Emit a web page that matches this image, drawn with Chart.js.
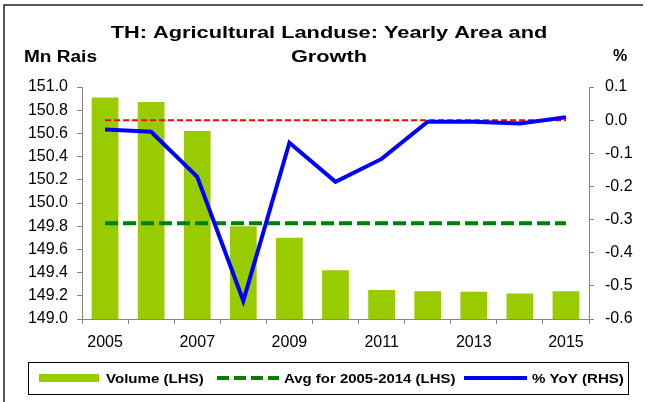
<!DOCTYPE html>
<html>
<head>
<meta charset="utf-8">
<style>
  body { margin: 0; background: #fff; }
  canvas { display: block; }
</style>
<script src="https://cdn.jsdelivr.net/npm/chart.js@4"></script>
</head>
<body>
<canvas id="landChart" width="647" height="402"></canvas>
<script>
// values
const years = ['2005', '2006', '2007', '2008', '2009', '2010', '2011', '2012', '2013', '2014', '2015'];
const volume = [150.91, 150.87, 150.62, 149.80, 149.70, 149.42, 149.25, 149.24, 149.235, 149.22, 149.24];
const avgLine = [149.826, 149.826, 149.826, 149.826, 149.826, 149.826, 149.826, 149.826, 149.826, 149.826, 149.826];
const yoy = [-0.028, -0.035, -0.171, -0.545, -0.068, -0.186, -0.117, -0.005, -0.005, -0.010, 0.009];
const zeroLine = [0, 0, 0, 0, 0, 0, 0, 0, 0, 0, 0];

const titleLines = ['TH: Agricultural Landuse: Yearly Area and', 'Growth'];
const leftUnit = 'Mn Rais';
const rightUnit = '%';
const legendItems = ['Volume (LHS)', 'Avg for 2005-2014 (LHS)', '% YoY (RHS)'];

const FONT = '"Liberation Sans", Arial, sans-serif';
const AXIS = '#868686';

function stretchedText(ctx, text, x, y, font, align, sx) {
    ctx.save();
    ctx.font = font;
    ctx.fillStyle = '#000';
    ctx.textBaseline = 'middle';
    ctx.textAlign = align;
    ctx.translate(x, y);
    ctx.scale(sx, 1);
    ctx.fillText(text, 0, 0);
    ctx.restore();
}

// frame, title, unit labels and the boxed legend
const decorations = {
    id: 'decorations',
    afterDraw(chart) {
        const ctx = chart.ctx;
        ctx.save();
        ctx.strokeStyle = '#222';
        ctx.lineWidth = 1.5;
        ctx.beginPath();
        ctx.moveTo(4, 402);
        ctx.lineTo(4, 5);
        ctx.lineTo(643, 5);
        ctx.stroke();
        ctx.restore();

        stretchedText(ctx, titleLines[0], 329, 33, 'bold 17px ' + FONT, 'center', 1.28);
        stretchedText(ctx, titleLines[1], 329, 57, 'bold 17px ' + FONT, 'center', 1.28);
        stretchedText(ctx, leftUnit, 24, 58, 'bold 16px ' + FONT, 'left', 1.19);
        stretchedText(ctx, rightUnit, 613, 57, 'bold 16px ' + FONT, 'left', 1.0);

        // legend box
        ctx.save();
        ctx.strokeStyle = '#000';
        ctx.lineWidth = 1;
        ctx.strokeRect(28.5, 362.5, 600, 32);

        ctx.fillStyle = '#99cc00';
        ctx.fillRect(39, 374, 60, 8);

        ctx.strokeStyle = '#008000';
        ctx.lineWidth = 4;
        ctx.setLineDash([12, 5]);
        ctx.beginPath();
        ctx.moveTo(217, 378);
        ctx.lineTo(279, 378);
        ctx.stroke();

        ctx.strokeStyle = '#0000ff';
        ctx.setLineDash([]);
        ctx.beginPath();
        ctx.moveTo(464, 378);
        ctx.lineTo(527, 378);
        ctx.stroke();
        ctx.restore();

        const lf = 'bold 13px ' + FONT;
        stretchedText(ctx, legendItems[0], 106, 379, lf, 'left', 1.16);
        stretchedText(ctx, legendItems[1], 284, 379, lf, 'left', 1.15);
        stretchedText(ctx, legendItems[2], 532, 379, lf, 'left', 1.16);
    }
};

new Chart(document.getElementById('landChart'), {
    type: 'bar',
    plugins: [ decorations ],
    data: {
        labels: years,
        datasets: [
            {
                type: 'line',
                label: 'zero',
                data: zeroLine,
                yAxisID: 'y1',
                borderColor: '#ff0000',
                borderWidth: 2,
                borderDash: [6, 3],
                pointRadius: 0,
                order: 3
            },
            {
                type: 'line',
                label: legendItems[1],
                data: avgLine,
                yAxisID: 'y',
                borderColor: '#008000',
                borderWidth: 4,
                borderDash: [13, 5],
                pointRadius: 0,
                order: 2
            },
            {
                type: 'line',
                label: legendItems[2],
                data: yoy,
                yAxisID: 'y1',
                borderColor: '#0000ff',
                borderWidth: 4,
                pointRadius: 0,
                tension: 0,
                order: 1
            },
            {
                type: 'bar',
                label: legendItems[0],
                data: volume,
                yAxisID: 'y',
                backgroundColor: '#99cc00',
                barPercentage: 0.58,
                categoryPercentage: 1,
                order: 4
            }
        ]
    },
    options: {
        responsive: false,
        animation: false,
        events: [],
        layout: {
            padding: { top: 87, bottom: 43, left: 0, right: 0 }
        },
        plugins: {
            legend: { display: false },
            title: { display: false },
            tooltip: { enabled: false }
        },
        scales: {
            x: {
                offset: true,
                afterFit: scale => { scale.height = 40; },
                grid: {
                    offset: true,
                    drawOnChartArea: false,
                    tickLength: 5,
                    color: AXIS
                },
                border: { color: AXIS, width: 1 },
                ticks: {
                    autoSkip: false,
                    maxRotation: 0,
                    padding: 9,
                    color: '#000',
                    font: { family: FONT, size: 16 },
                    callback: (value, index) => index % 2 === 0 ? years[index] : ''
                }
            },
            y: {
                position: 'left',
                min: 149,
                max: 151,
                afterFit: scale => { scale.width = 82; },
                grid: {
                    drawOnChartArea: false,
                    tickLength: 5,
                    color: AXIS
                },
                border: { color: AXIS, width: 1 },
                ticks: {
                    stepSize: 0.2,
                    padding: 9,
                    color: '#000',
                    font: { family: FONT, size: 16 },
                    callback: value => value.toFixed(1)
                }
            },
            y1: {
                position: 'right',
                min: -0.6,
                max: 0.1,
                afterFit: scale => { scale.width = 58; },
                grid: {
                    drawOnChartArea: false,
                    tickLength: 5,
                    color: AXIS
                },
                border: { color: AXIS, width: 1 },
                ticks: {
                    stepSize: 0.1,
                    padding: 11,
                    color: '#000',
                    font: { family: FONT, size: 16 },
                    callback: value => Math.abs(value) < 1e-9 ? '0.0' : value.toFixed(1)
                }
            }
        }
    }
});
</script>
</body>
</html>
